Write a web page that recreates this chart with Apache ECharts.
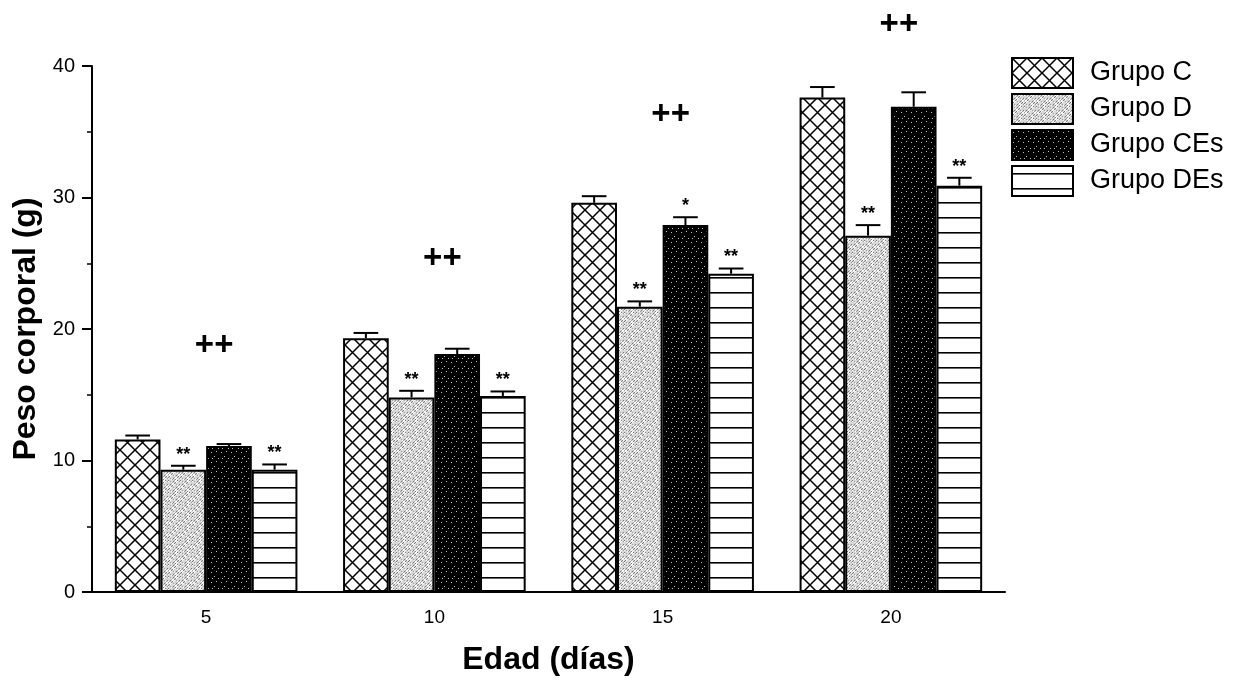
<!DOCTYPE html>
<html>
<head>
<meta charset="utf-8">
<script src="https://cdn.jsdelivr.net/npm/echarts@6/dist/echarts.min.js"></script>
<style>
  html, body { margin: 0; padding: 0; background: #fff; }
  #chart { width: 1242px; height: 681px; }
</style>
</head>
<body>
<div id="chart"></div>
<script>
// datos
const categories = ['5', '10', '15', '20'];
const groupNames = ['Grupo C', 'Grupo D', 'Grupo CEs', 'Grupo DEs'];
const grupoC = [11.6, 19.3, 29.6, 37.6];
const grupoD = [9.3, 14.8, 21.7, 27.1];
const grupoCEs = [11.1, 18.1, 27.9, 36.9];
const grupoDEs = [9.3, 14.9, 24.2, 30.9];
const errC = [0.3, 0.4, 0.5, 0.8];
const errD = [0.3, 0.5, 0.4, 0.8];
const errCEs = [0.15, 0.4, 0.6, 1.1];
const errDEs = [0.4, 0.35, 0.4, 0.6];
const sigC = ['', '', '', ''];
const sigD = ['**', '**', '**', '**'];
const sigCEs = ['', '', '*', ''];
const sigDEs = ['**', '**', '**', '**'];
const plusLevel = [18.7, 25.3, 36.3, 43.1];

const values = [grupoC, grupoD, grupoCEs, grupoDEs];
const errors = [errC, errD, errCEs, errDEs];
const sigs = [sigC, sigD, sigCEs, sigDEs];

// texturas
function makeCanvas(w, h, draw) {
  const c = document.createElement('canvas');
  c.width = w; c.height = h;
  draw(c.getContext('2d'), w, h);
  return c;
}
const crossHatch = makeCanvas(15, 15, function (ctx, w, h) {
  ctx.fillStyle = '#fff';
  ctx.fillRect(0, 0, w, h);
  ctx.strokeStyle = '#000';
  ctx.lineWidth = 1.5;
  ctx.beginPath();
  ctx.moveTo(0, 0); ctx.lineTo(w, h);
  ctx.moveTo(w, 0); ctx.lineTo(0, h);
  ctx.stroke();
});
const graySpeckle = makeCanvas(12, 12, function (ctx, w, h) {
  ctx.fillStyle = '#d8d8d8';
  ctx.fillRect(0, 0, w, h);
  for (let y = 0; y < h; y++) {
    for (let x = 0; x < w; x++) {
      const k = (x * 7 + y * 13 + x * y * 3) % 9;
      if (k === 0) { ctx.fillStyle = '#7a7a7a'; ctx.fillRect(x, y, 1, 1); }
      else if (k === 4 || k === 2) { ctx.fillStyle = '#fff'; ctx.fillRect(x, y, 1, 1); }
      else if (k === 6) { ctx.fillStyle = '#a0a0a0'; ctx.fillRect(x, y, 1, 1); }
    }
  }
});
const blackDots = makeCanvas(10, 10, function (ctx, w, h) {
  ctx.fillStyle = '#000';
  ctx.fillRect(0, 0, w, h);
  ctx.fillStyle = '#c0c0c0';
  ctx.fillRect(1, 2, 1, 1);
  ctx.fillRect(6, 1, 1, 1);
  ctx.fillRect(4, 6, 1, 1);
  ctx.fillRect(8, 8, 1, 1);
  ctx.fillRect(2, 8, 1, 1);
});
const hLines = makeCanvas(8, 15, function (ctx, w, h) {
  ctx.fillStyle = '#fff';
  ctx.fillRect(0, 0, w, h);
  ctx.fillStyle = '#000';
  ctx.fillRect(0, 7, w, 1.6);
});
const patterns = [crossHatch, graySpeckle, blackDots, hLines];

const FONT = '"Liberation Sans", Arial, sans-serif';
const GAP = 0.2;

const barSeries = groupNames.map(function (name, i) {
  return {
    name: name,
    type: 'bar',
    data: values[i],
    barGap: '0%',
    barCategoryGap: '20%',
    itemStyle: {
      color: { image: patterns[i], repeat: 'repeat' },
      borderColor: '#000',
      borderWidth: 2
    },
    emphasis: { disabled: true }
  };
});

const myChart = echarts.init(document.getElementById('chart'));
myChart.setOption({
  animation: false,
  textStyle: { fontFamily: FONT, color: '#000' },
  grid: { left: 92, right: 237, top: 66, bottom: 89 },
  legend: {
    orient: 'vertical',
    left: 1011,
    top: 57,
    padding: 0,
    icon: 'rect',
    itemWidth: 61,
    itemHeight: 30,
    itemGap: 4,
    data: groupNames,
    textStyle: { fontFamily: FONT, fontSize: 27, color: '#000', padding: [0, 0, 0, 12] }
  },
  xAxis: [{
    type: 'category',
    data: categories,
    name: 'Edad (días)',
    nameLocation: 'middle',
    nameGap: 52,
    nameTextStyle: { fontFamily: FONT, fontSize: 32, fontWeight: 'bold', color: '#000' },
    axisLine: { lineStyle: { color: '#000', width: 2 } },
    axisTick: { length: 7, lineStyle: { color: '#000', width: 2 } },
    axisLabel: { fontFamily: FONT, fontSize: 19, color: '#000', margin: 16 }
  }, {
    // marcas hacia arriba para que crucen el eje
    type: 'category',
    data: categories,
    position: 'bottom',
    axisLine: { show: false },
    axisTick: { inside: true, length: 6, lineStyle: { color: '#000', width: 2 } },
    axisLabel: { show: false }
  }],
  yAxis: {
    type: 'value',
    min: 0,
    max: 40,
    interval: 10,
    name: 'Peso corporal (g)',
    nameLocation: 'middle',
    nameGap: 40,
    nameTextStyle: { fontFamily: FONT, fontSize: 32, fontWeight: 'bold', color: '#000' },
    axisLine: { show: true, lineStyle: { color: '#000', width: 2 } },
    axisTick: { show: true, length: 10, lineStyle: { color: '#000', width: 2 } },
    minorTick: { show: true, splitNumber: 2, length: 5, lineStyle: { color: '#000', width: 1.5 } },
    splitLine: { show: false },
    axisLabel: { fontFamily: FONT, fontSize: 20, color: '#000', margin: 17 }
  },
  series: barSeries.concat([{
    type: 'custom',
    clip: false,
    silent: true,
    data: categories.map(function (c, i) { return [i]; }),
    renderItem: function (params, api) {
      const ci = api.value(0);
      const band = api.size([1, 0])[0];
      const bw = band * (1 - GAP) / 4;
      const center = api.coord([ci, 0])[0];
      const children = [];
      for (let s = 0; s < 4; s++) {
        const x = center - band * (1 - GAP) / 2 + bw * (s + 0.5);
        const yTop = api.coord([ci, values[s][ci]])[1];
        const yErr = api.coord([ci, values[s][ci] + errors[s][ci]])[1];
        children.push({
          type: 'line',
          shape: { x1: x, y1: yTop, x2: x, y2: yErr },
          style: { stroke: '#000', lineWidth: 2 }
        });
        children.push({
          type: 'line',
          shape: { x1: x - bw * 0.27, y1: yErr, x2: x + bw * 0.27, y2: yErr },
          style: { stroke: '#000', lineWidth: 2 }
        });
        if (sigs[s][ci]) {
          children.push({
            type: 'text',
            x: x,
            y: yErr - 2,
            style: {
              text: sigs[s][ci],
              fill: '#000',
              font: 'bold 18px ' + FONT,
              align: 'center',
              verticalAlign: 'bottom'
            }
          });
        }
      }
      const py = api.coord([ci, plusLevel[ci]])[1];
      children.push({
        type: 'text',
        x: center + 8,
        y: py,
        style: {
          text: '++',
          fill: '#000',
          font: 'bold 33px ' + FONT,
          align: 'center',
          verticalAlign: 'middle'
        }
      });
      return { type: 'group', children: children };
    }
  }])
});

window.addEventListener('resize', function () {
  myChart.resize();
});
</script>
</body>
</html>
